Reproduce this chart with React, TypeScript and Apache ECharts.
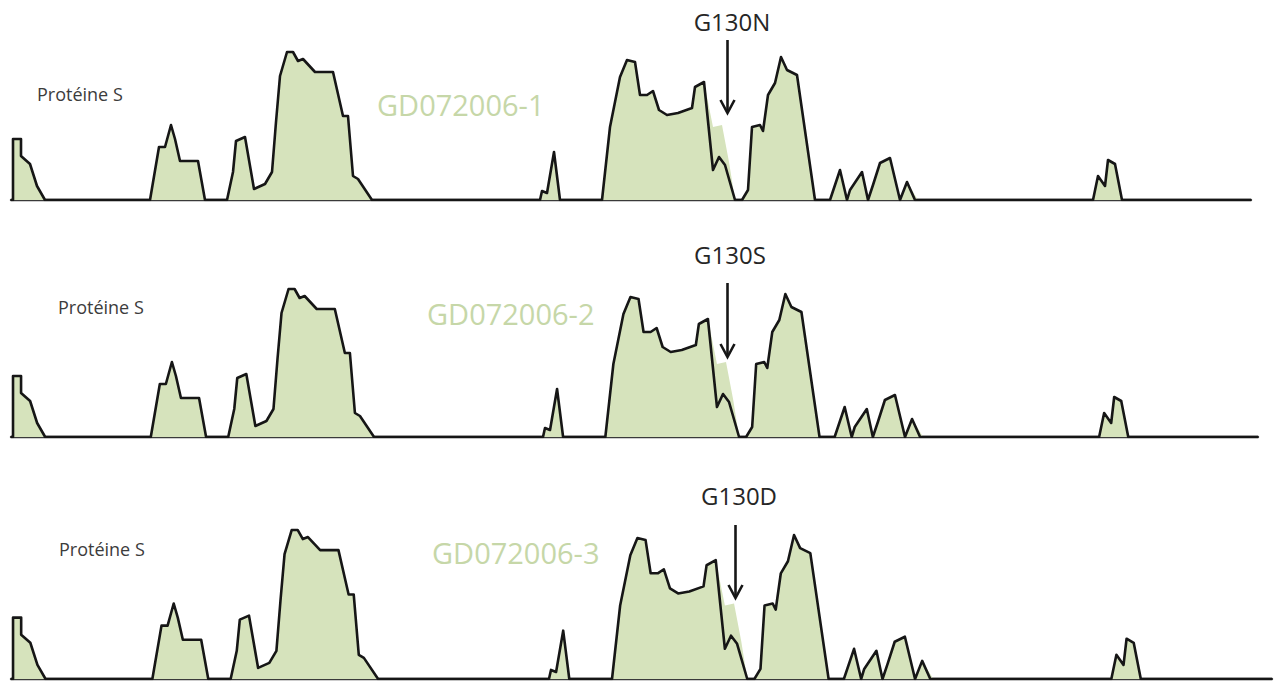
import React, { useEffect, useRef } from "react";
import * as echarts from "echarts";

// Sample (black line) profile: residue position vs score
const samplePos = [
  0, 2, 2, 10, 10, 19, 26, 34,
  139, 148, 154, 160, 164, 169, 187, 194,
  216, 222, 225, 234, 243, 254, 261, 265, 269, 276, 282, 287, 292, 304, 322, 332, 337, 342, 347, 361,
  529, 531, 536, 543, 549,
  591, 599, 609, 616, 624, 629, 636, 642, 648, 656, 667, 681, 684, 693, 702, 708, 714, 724,
  731, 737, 741, 749, 752, 757, 764, 770, 776, 786, 804,
  819, 829, 836, 839, 851, 857, 862, 869, 879, 889, 896, 904,
  1082, 1087, 1094, 1097, 1104, 1111, 1240,
];
const sampleVal = [
  0, 0, 61, 61, 44, 36, 14, 0,
  0, 53, 53, 75, 61, 39, 39, 0,
  0, 28, 59, 63, 11, 16, 28, 78, 124, 148, 148, 139, 141, 128, 128, 84, 84, 24, 21, 0,
  0, 9, 7, 48, 0,
  0, 73, 123, 140, 138, 105, 105, 109, 90, 85, 87, 92, 113, 118, 30, 43, 35, 0,
  0, 10, 73, 75, 69, 105, 117, 143, 130, 125, 0,
  0, 30, 0, 10, 28, 0, 15, 37, 42, 0, 18, 0,
  0, 24, 14, 40, 36, 0, 0,
];

// Reference (green area) profile
const refPos = [
  0, 2, 2, 10, 10, 19, 26, 34,
  139, 148, 154, 160, 164, 169, 187, 194,
  216, 222, 225, 234, 243, 254, 261, 265, 269, 276, 282, 287, 292, 304, 322, 332, 337, 342, 347, 361,
  529, 531, 536, 543, 549,
  591, 599, 609, 616, 624, 629, 636, 642, 648, 656, 667, 681, 684, 693, 702, 711, 718, 724,
  731, 737, 741, 749, 752, 757, 764, 770, 776, 786, 804,
  819, 829, 836, 839, 851, 857, 862, 869, 879, 889, 896, 907,
  1082, 1087, 1094, 1097, 1104, 1111, 1240,
];
const refVal = [
  0, 0, 61, 61, 44, 36, 14, 0,
  0, 53, 53, 75, 61, 39, 39, 0,
  0, 28, 59, 63, 11, 16, 28, 78, 124, 148, 148, 139, 141, 128, 128, 84, 84, 24, 21, 0,
  0, 9, 7, 48, 0,
  0, 73, 123, 140, 138, 105, 105, 109, 90, 85, 87, 92, 113, 118, 73, 75, 38, 0,
  0, 10, 73, 75, 69, 105, 117, 143, 130, 125, 0,
  0, 30, 0, 10, 28, 0, 15, 37, 42, 0, 18, 0,
  0, 24, 14, 40, 36, 0, 0,
];

const proteinLabel = "Protéine S";
const sampleNames = ["GD072006-1", "GD072006-2", "GD072006-3"];
const mutations = ["G130N", "G130S", "G130D"];
const mutationSite = [716, 712, 712];
const posMax = 1240;
const scoreMax = 150;

const FILL = "#d6e3bc";
const LINE = "#161616";
const LABEL_GREEN = "#c6d7a8";

const grids = [
  { left: 11, top: 50, width: 1240, height: 150 },
  { left: 11, top: 287, width: 1247, height: 150 },
  { left: 11, top: 528, width: 1261, height: 151 },
];
const proteinPos = [
  { x: 37, y: 94 },
  { x: 58, y: 307 },
  { x: 59, y: 549 },
];
const namePos = [
  { x: 377, y: 104 },
  { x: 427, y: 313 },
  { x: 432, y: 552 },
];
const mutLabelPos = [
  { x: 732, y: 21 },
  { x: 730, y: 254 },
  { x: 739, y: 495 },
];
const arrowY = [
  [40, 113],
  [283, 357],
  [525, 598],
];

export default function App() {
  const ref = useRef<HTMLDivElement>(null);
  useEffect(() => {
    if (!ref.current) return;
    const chart = echarts.init(ref.current, null, { renderer: "svg" });
    const sample = samplePos.map((p, i) => [p, sampleVal[i]]);
    const reference = refPos.map((p, i) => [p, refVal[i]]);
    const series: any[] = [];
    grids.forEach((_, i) => {
      series.push({
        type: "line",
        xAxisIndex: i,
        yAxisIndex: i,
        data: reference,
        showSymbol: false,
        lineStyle: { width: 0, opacity: 0 },
        areaStyle: { color: FILL, opacity: 1 },
        z: 2,
        silent: true,
      });
      series.push({
        type: "line",
        xAxisIndex: i,
        yAxisIndex: i,
        data: sample,
        showSymbol: false,
        lineStyle: { width: 2.6, color: LINE, join: "round" },
        z: 3,
        silent: true,
      });
    });
    chart.setOption({
      animation: false,
      grid: grids.map((g) => ({ ...g, containLabel: false })),
      xAxis: grids.map((_, i) => ({
        type: "value",
        gridIndex: i,
        min: 0,
        max: posMax,
        axisLine: { show: true, lineStyle: { color: "#3a3a3a", width: 2.4 } },
        axisTick: { show: false },
        axisLabel: { show: false },
        splitLine: { show: false },
      })),
      yAxis: grids.map((_, i) => ({
        type: "value",
        gridIndex: i,
        min: 0,
        max: scoreMax,
        show: false,
        splitLine: { show: false },
      })),
      series,
    });

    const graphic: any[] = [];
    grids.forEach((_, i) => {
      const px = chart.convertToPixel({ xAxisIndex: i, yAxisIndex: i } as any, [mutationSite[i], 0]) as number[];
      const x = Math.round(px[0]) + 0.5;
      const [y0, y1] = arrowY[i];
      graphic.push({
        type: "line",
        shape: { x1: x, y1: y0, x2: x, y2: y1 - 1 },
        style: { stroke: LINE, lineWidth: 2.6 },
        z: 10,
      });
      graphic.push({
        type: "polyline",
        shape: { points: [[x - 7, y1 - 13], [x, y1], [x + 7, y1 - 13]] },
        style: { stroke: LINE, lineWidth: 2.6, fill: null, lineJoin: "miter" },
        z: 10,
      });
      graphic.push({
        type: "text",
        x: mutLabelPos[i].x,
        y: mutLabelPos[i].y,
        style: {
          text: mutations[i],
          font: "24px 'Open Sans'",
          fill: "#262626",
          textAlign: "center",
          textVerticalAlign: "middle",
        },
        z: 10,
      });
      graphic.push({
        type: "text",
        x: proteinPos[i].x,
        y: proteinPos[i].y,
        style: {
          text: proteinLabel,
          font: "18px 'Open Sans'",
          fill: "#3c3c3c",
          textAlign: "left",
          textVerticalAlign: "middle",
        },
        z: 10,
      });
      graphic.push({
        type: "text",
        x: namePos[i].x,
        y: namePos[i].y,
        style: {
          text: sampleNames[i],
          font: "29px 'Open Sans'",
          fill: LABEL_GREEN,
          textAlign: "left",
          textVerticalAlign: "middle",
        },
        z: 10,
      });
    });
    chart.setOption({ graphic });
    return () => chart.dispose();
  }, []);
  return (
    <div
      ref={ref}
      style={{ position: "absolute", left: 0, top: 0, width: 1277, height: 681, background: "#fff" }}
    />
  );
}
